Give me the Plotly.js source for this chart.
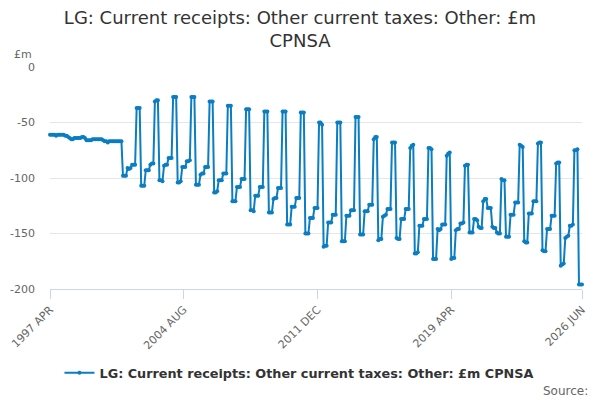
<!DOCTYPE html>
<html>
<head>
<meta charset="utf-8">
<script src="https://cdn.plot.ly/plotly-3.0.1.min.js"></script>
<style>
  html, body { margin: 0; padding: 0; background: #fff; }
  #chart { width: 600px; height: 400px; }
</style>
</head>
<body>
<div id="chart"></div>
<script>
// monthly series, 1997 APR .. 2026 JUN (one line per financial year, Apr..Mar)
const values = [
  -61, -61, -61, -61, -62, -61, -61, -61, -61, -61, -62, -62,
  -63, -64, -65, -65, -64, -64, -64, -64, -64, -63, -63, -64,
  -66, -66, -66, -66, -65, -65, -65, -65, -65, -65, -65, -66,
  -67, -67, -68, -67, -67, -67, -67, -67, -67, -67, -67, -67,
  -98, -98, -98, -91, -92, -91, -88, -88, -88, -37, -37, -37,
  -107, -107, -107, -93, -93, -93, -88, -87, -87, -31, -30, -30,
  -102, -102, -103, -89, -88, -88, -82, -82, -82, -27, -27, -27,
  -104, -104, -103, -90, -90, -90, -85, -85, -84, -27, -27, -27,
  -106, -106, -106, -97, -96, -96, -90, -90, -90, -31, -31, -31,
  -113, -113, -112, -102, -102, -102, -96, -96, -96, -35, -35, -35,
  -121, -121, -121, -108, -108, -108, -101, -101, -101, -38, -38, -38,
  -129, -129, -130, -116, -116, -116, -108, -108, -108, -40, -40, -40,
  -131, -131, -131, -119, -118, -118, -109, -109, -109, -40, -40, -40,
  -142, -142, -142, -126, -126, -126, -118, -118, -118, -41, -41, -41,
  -150, -150, -150, -136, -136, -136, -127, -127, -127, -50, -50, -52,
  -162, -161, -161, -140, -140, -140, -133, -133, -133, -50, -50, -50,
  -157, -157, -157, -134, -134, -134, -129, -129, -129, -45, -45, -45,
  -151, -151, -151, -130, -130, -130, -124, -124, -124, -65, -63, -63,
  -156, -155, -155, -135, -134, -133, -128, -128, -128, -68, -68, -68,
  -154, -155, -155, -137, -137, -137, -128, -128, -128, -73, -71, -70,
  -168, -168, -167, -143, -143, -143, -137, -137, -137, -73, -73, -74,
  -173, -173, -173, -146, -147, -146, -142, -142, -142, -80, -78, -77,
  -173, -172, -172, -147, -146, -146, -141, -141, -140, -89, -88, -88,
  -149, -149, -149, -137, -137, -138, -144, -145, -145, -121, -119, -119,
  -127, -127, -127, -144, -145, -145, -149, -150, -150, -101, -102, -102,
  -153, -153, -153, -133, -133, -133, -122, -122, -122, -70, -71, -72,
  -157, -158, -158, -132, -132, -132, -121, -121, -121, -69, -68, -68,
  -165, -166, -166, -146, -146, -146, -134, -134, -134, -87, -86, -86,
  -179, -178, -177, -154, -153, -152, -143, -143, -142, -75, -75, -74,
  -196, -196, -196
];

const monthNames = ['JAN','FEB','MAR','APR','MAY','JUN','JUL','AUG','SEP','OCT','NOV','DEC'];
const startYear = 1997;
const startMonth = 3; // APR

const tickLabels = ['1997 APR', '2004 AUG', '2011 DEC', '2019 APR', '2026 JUN'];
const yTicks = [0, -50, -100, -150, -200];

const seriesName = 'LG: Current receipts: Other current taxes: Other: £m CPNSA';

// category labels, one per month
const months = [];
for (let i = 0; i < values.length; i++) {
  const m = startMonth + i;
  months.push((startYear + Math.floor(m / 12)) + ' ' + monthNames[m % 12]);
}

const blue = '#0b7dc1';
const grey = '#666666';
const font = 'DejaVu Sans, Verdana, sans-serif';

const trace = {
  x: months,
  y: values,
  type: 'scatter',
  mode: 'lines+markers',
  name: seriesName,
  line: { color: blue, width: 2 },
  marker: { color: blue, size: 4 },
  cliponaxis: false,
  hoverinfo: 'x+y'
};

const layout = {
  width: 600,
  height: 400,
  paper_bgcolor: '#ffffff',
  plot_bgcolor: '#ffffff',
  margin: { l: 50, r: 18, t: 67, b: 108 },
  font: { family: font, color: '#333333' },
  title: {
    text: 'LG: Current receipts: Other current taxes: Other: £m<br>CPNSA',
    font: { family: font, size: 18, color: '#333333' },
    x: 0.5,
    xanchor: 'center',
    y: 0.94,
    yanchor: 'top'
  },
  xaxis: {
    type: 'category',
    range: [0, values.length - 1],
    tickmode: 'array',
    tickvals: tickLabels,
    ticktext: tickLabels,
    tickangle: -45,
    ticks: 'outside',
    ticklen: 9,
    tickcolor: '#ccd6eb',
    showline: true,
    linecolor: '#ccd6eb',
    linewidth: 1,
    showgrid: false,
    zeroline: false,
    tickfont: { family: font, size: 11, color: grey }
  },
  yaxis: {
    range: [-200, 0],
    tickmode: 'array',
    tickvals: yTicks,
    ticktext: yTicks.map(String),
    showgrid: true,
    gridcolor: '#e6e6e6',
    gridwidth: 1,
    zeroline: false,
    showline: false,
    ticks: '',
    ticklabelstandoff: 14,
    tickfont: { family: font, size: 11, color: grey }
  },
  showlegend: true,
  legend: {
    orientation: 'h',
    x: 0.468,
    xanchor: 'center',
    y: -0.31,
    yanchor: 'top',
    font: { family: font, size: 12.8, color: '#333333', weight: 'bold' }
  },
  annotations: [
    {
      text: '£m',
      xref: 'paper', yref: 'paper',
      x: -0.072, y: 1.02,
      xanchor: 'left', yanchor: 'bottom',
      showarrow: false,
      font: { family: font, size: 11, color: grey }
    },
    {
      text: 'Source:',
      xref: 'paper', yref: 'paper',
      x: 1.015, y: -0.42,
      xanchor: 'right', yanchor: 'top',
      showarrow: false,
      font: { family: font, size: 12, color: grey }
    }
  ]
};

Plotly.newPlot('chart', [trace], layout, { displayModeBar: false, staticPlot: true });
</script>
</body>
</html>
